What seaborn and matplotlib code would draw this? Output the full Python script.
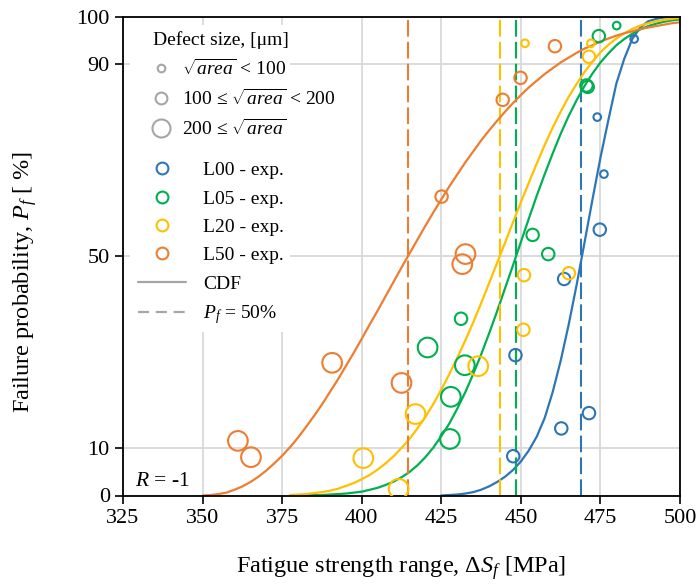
import numpy as np
import pandas as pd
import matplotlib
matplotlib.use("Agg")
import matplotlib.pyplot as plt
import seaborn as sns
from matplotlib.lines import Line2D
from matplotlib.patches import Rectangle

sns.set_theme(style="ticks")
plt.rcParams["font.family"] = ["Liberation Serif", "DejaVu Serif"]
plt.rcParams["mathtext.fontset"] = "custom"
plt.rcParams["mathtext.rm"] = "Liberation Serif"
plt.rcParams["mathtext.it"] = "Liberation Serif:italic"
for k in ["text.color", "axes.labelcolor", "xtick.color", "ytick.color"]:
    plt.rcParams[k] = "black"

names = ["L00", "L05", "L20", "L50"]
colors = ["#2E75B6", "#00B050", "#FFC000", "#ED7D31"]

# experimental points: stress range [MPa], Pf [%], defect size class (0 <100, 1 100-200, 2 >=200)
l00_s = [447.6, 462.7, 471.4, 448.3, 463.6, 474.8, 476.1, 474.0, 485.6]
l00_pf = [8.2, 14.0, 17.2, 29.3, 45.2, 55.5, 67.1, 79.0, 95.3]
l00_d = [1, 1, 1, 1, 1, 1, 0, 0, 0]

l05_s = [427.7, 428.0, 432.4, 420.7, 431.2, 458.6, 453.7, 470.6, 471.0, 474.5, 480.1]
l05_pf = [11.8, 20.6, 27.2, 30.9, 36.9, 50.4, 54.4, 85.6, 85.3, 95.9, 98.1]
l05_d = [2, 2, 2, 2, 1, 1, 1, 1, 1, 1, 0]

l20_s = [411.6, 400.5, 416.9, 436.6, 450.8, 451.0, 465.1, 471.4, 472.0, 451.3]
l20_pf = [1.4, 7.8, 17.0, 27.0, 34.6, 46.0, 46.4, 91.6, 94.4, 94.4]
l20_d = [2, 2, 2, 2, 1, 1, 1, 1, 0, 0]

l50_s = [361.1, 365.2, 390.7, 412.5, 425.1, 431.6, 432.6, 444.3, 449.9, 460.7]
l50_pf = [11.4, 8.0, 27.7, 23.5, 62.4, 48.3, 50.4, 82.6, 87.2, 93.8]
l50_d = [2, 2, 2, 2, 1, 2, 2, 1, 1, 1]

# stress range at Pf = 50 %
pf50 = [468.8, 448.4, 443.4, 414.6]

# fitted CDF curves, read every 2.5 MPa
x_l00 = np.arange(425, 500.1, 2.5)
c_l00 = [0.0, 0.1, 0.2, 0.4, 0.7, 1.2, 1.9, 2.8, 3.9, 5.3, 7.1, 9.4, 12.3, 16.2, 21.6, 28.1,
         35.6, 43.9, 52.8, 61.8, 70.5, 78.4, 86.0, 91.2, 95.3, 97.7, 99.0, 99.5, 99.8, 99.9, 100.0]
x_l05 = np.arange(380, 500.1, 2.5)
c_l05 = [0.0, 0.1, 0.1, 0.1, 0.2, 0.3, 0.4, 0.6, 0.8, 1.2, 1.6, 2.2, 2.9, 3.8, 4.9, 6.3, 8.0,
         10.0, 12.4, 15.0, 18.1, 21.5, 25.3, 29.4, 33.8, 38.4, 43.2, 48.0, 52.9, 57.8, 62.6,
         67.1, 71.4, 75.5, 79.2, 82.5, 85.5, 88.1, 90.4, 92.3, 94.0, 95.3, 96.4, 97.3, 98.0,
         98.5, 98.9, 99.2, 99.4]
x_l20 = np.arange(377.5, 500.1, 2.5)
c_l20 = [0.1, 0.2, 0.3, 0.5, 0.7, 1.0, 1.4, 2.0, 2.6, 3.4, 4.3, 5.4, 6.7, 8.2, 9.9, 11.8, 14.0,
         16.4, 19.1, 22.1, 25.3, 28.7, 32.3, 36.1, 40.1, 44.3, 48.5, 52.7, 57.0, 61.2, 65.3,
         69.3, 73.2, 76.8, 80.1, 83.2, 85.9, 88.4, 90.6, 92.5, 94.1, 95.4, 96.5, 97.4, 98.1,
         98.6, 99.0, 99.3, 99.5, 99.7]
x_l50 = np.arange(350, 500.1, 2.5)
c_l50 = [0.0, 0.1, 0.3, 0.6, 1.2, 1.9, 2.8, 3.9, 5.2, 6.7, 8.3, 10.1, 12.1, 14.3, 16.6, 19.0,
         21.6, 24.2, 27.0, 29.8, 32.7, 35.7, 38.6, 41.6, 44.6, 47.6, 50.5, 53.4, 56.3, 59.1,
         61.8, 64.5, 67.0, 69.5, 71.8, 74.1, 76.2, 78.2, 80.1, 81.9, 83.6, 85.2, 86.6, 88.0,
         89.2, 90.4, 91.4, 92.4, 93.3, 94.0, 94.8, 95.4, 96.0, 96.5, 96.9, 97.4, 97.7, 98.0,
         98.3, 98.6, 98.8]

fig = plt.figure(figsize=(6.98, 5.84), dpi=100)
ax = fig.add_axes([123 / 698, 88.5 / 584, 557 / 698, 479 / 584])

ax.grid(True, color="#D9D9D9", lw=1.3)
ax.set_axisbelow(True)
# white legend area hides the grid behind it
ax.add_patch(Rectangle((0.013, 0.341), 0.287, 0.641, transform=ax.transAxes,
                       fc="white", ec="none", zorder=1))

sizes = {0: 30, 1: 80, 2: 200}
pts = [(l00_s, l00_pf, l00_d), (l05_s, l05_pf, l05_d), (l20_s, l20_pf, l20_d), (l50_s, l50_pf, l50_d)]
curves = [(x_l00, c_l00), (x_l05, c_l05), (x_l20, c_l20), (x_l50, c_l50)]

for name, col, (s, pf, d), (cx, cy), med in zip(names, colors, pts, curves, pf50):
    ax.axvline(med, color=col, lw=1.5, ls=(0, (8, 2.5)), zorder=2)
    sns.lineplot(x=cx, y=cy, color=col, lw=1.6, ax=ax, zorder=2)
    df = pd.DataFrame({"stress": s, "pf": pf, "defect": d})
    sns.scatterplot(data=df, x="stress", y="pf", size="defect", sizes=sizes,
                    color=col, facecolor="none", edgecolor=col, linewidth=1.5,
                    legend=False, ax=ax, zorder=3)

ax.set_xlim(325, 500)
ax.set_ylim(0, 100)
ax.set_xticks(np.arange(325, 501, 25))
ax.set_yticks([0, 10, 50, 90, 100])
ax.tick_params(labelsize=16, length=6, width=1.2, color="black", direction="out")
for sp in ax.spines.values():
    sp.set_color("black")
    sp.set_linewidth(1.3)
ax.set_xlabel(r"Fatigue strength range, Δ$S_f$ [MPa]", fontsize=17.5, labelpad=19)
ax.set_ylabel(r"Failure probability, $P_f$ [ %]", fontsize=17.5)
ax.yaxis.set_label_coords(-0.151, 0.446)
ax.text(0.022, 0.02, "$R$ = -1", transform=ax.transAxes, fontsize=15.5)

gray = "#A6A6A6"
h1 = [Line2D([], [], ls="none", marker="o", mfc="none", mec=gray, mew=1.5, ms=ms)
      for ms in [5.5, 8.5, 13]]
lab1 = ["$\\sqrt{area}$ < 100", "100 ≤ $\\sqrt{area}$ < 200", "200 ≤ $\\sqrt{area}$"]
leg1 = ax.legend(h1, lab1, title="Defect size, [μm]", loc="upper left",
                 bbox_to_anchor=(0.0465, 0.977), borderaxespad=0, fontsize=14, title_fontsize=14,
                 frameon=False, handlelength=0.82, handletextpad=0.67, labelspacing=0.5,
                 borderpad=0.2, alignment="left")
ax.add_artist(leg1)

h2 = [Line2D([], [], ls="none", marker="o", mfc="none", mec=c, mew=1.5, ms=8.5) for c in colors]
h2 += [Line2D([], [], color=gray, lw=1.6), Line2D([], [], color=gray, lw=1.6, ls=(0, (5, 3)))]
lab2 = [n + " - exp." for n in names] + ["CDF", "$P_f$ = 50%"]
ax.legend(h2, lab2, loc="upper left", bbox_to_anchor=(0.020, 0.705), borderaxespad=0,
          fontsize=14, frameon=False, handlelength=2.45, handletextpad=0.9,
          labelspacing=0.55, borderpad=0.2)

fig.savefig("out.png", dpi=100)
